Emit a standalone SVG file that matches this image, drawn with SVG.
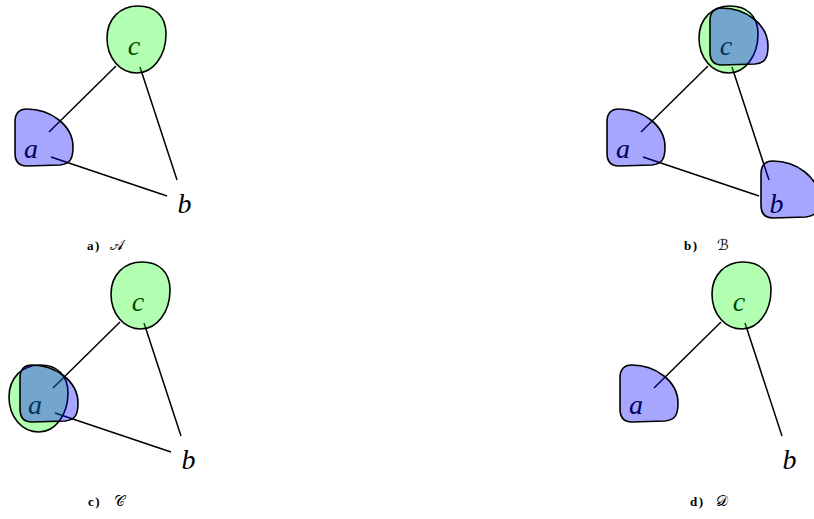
<svg xmlns="http://www.w3.org/2000/svg" xmlns:xlink="http://www.w3.org/1999/xlink" width="814" height="519" viewBox="0 0 814 519">
<style>
.lbl{font-family:"Liberation Serif",serif;font-style:italic;font-size:28px;fill:#000;text-anchor:middle}
.cap{font-family:"Liberation Serif",serif;font-weight:bold;font-size:13px;letter-spacing:1.5px;fill:#000}
.scr{font-family:"DejaVu Serif","DejaVu Sans","Noto Sans",serif;font-size:15px;fill:#000}
.edges line{stroke:#000;stroke-width:1.5;fill:none}
.green{fill:#00ff00;fill-opacity:0.3;stroke:#000;stroke-width:1.6}
.blue{fill:#0000ff;fill-opacity:0.35;stroke:#000;stroke-width:1.6}
</style>
<defs>
<path id="egg" d="M 30 67 C 13 67, 0 52, 0 32 C 0 13, 13 0, 31 0 C 48 0, 59 10, 59 28 C 59 50, 46 67, 30 67 Z"/>
<path id="drop" d="M 12 0 C 35 0, 58 16, 58 38 C 58 50, 55 55, 45 56 L 12 57 C 3 57, 0 52, 0 44 L 0 13 C 0 4, 4 0, 12 0 Z"/>
</defs>

<!-- Panel a -->
<g id="panelA">
  <g id="A-edges" class="edges">
    <line x1="116" y1="66" x2="49" y2="132"/>
    <line x1="140" y1="67" x2="177" y2="180"/>
    <line x1="51" y1="157" x2="167" y2="196"/>
  </g>
  <g id="A-c"><text class="lbl" x="134" y="55">c</text><use xlink:href="#egg" class="green" x="107" y="6"/></g>
  <g id="A-a"><text class="lbl" x="31" y="158">a</text><use xlink:href="#drop" class="blue" x="15" y="109"/></g>
  <g id="A-b"><text class="lbl" x="184.5" y="213">b</text></g>
  <g id="A-caption"><text class="cap" x="87" y="250">a)</text><text class="scr" x="110" y="250">𝒜</text></g>
</g>

<!-- Panel b -->
<g id="panelB">
  <g id="B-edges" class="edges">
    <line x1="708" y1="66" x2="641" y2="132"/>
    <line x1="732" y1="67" x2="769" y2="180"/>
    <line x1="643" y1="157" x2="759" y2="196"/>
  </g>
  <g id="B-c"><text class="lbl" x="726" y="55">c</text><use xlink:href="#egg" class="green" x="699" y="6"/><use xlink:href="#drop" class="blue" x="710" y="8"/></g>
  <g id="B-a"><text class="lbl" x="623" y="158">a</text><use xlink:href="#drop" class="blue" x="607" y="109"/></g>
  <g id="B-b"><text class="lbl" x="776.5" y="213">b</text><use xlink:href="#drop" class="blue" x="761" y="161"/></g>
  <g id="B-caption"><text class="cap" x="684" y="250">b)</text><text class="scr" x="717" y="250">ℬ</text></g>
</g>

<!-- Panel c -->
<g id="panelC">
  <g id="C-edges" class="edges">
    <line x1="120" y1="322" x2="53" y2="388"/>
    <line x1="144" y1="323" x2="181" y2="436"/>
    <line x1="55" y1="413" x2="171" y2="452"/>
  </g>
  <g id="C-c"><text class="lbl" x="138" y="311">c</text><use xlink:href="#egg" class="green" x="111" y="262"/></g>
  <g id="C-a"><text class="lbl" x="35" y="414">a</text><use xlink:href="#egg" class="green" x="9" y="365"/><use xlink:href="#drop" class="blue" x="20" y="365"/></g>
  <g id="C-b"><text class="lbl" x="188.5" y="469">b</text></g>
  <g id="C-caption"><text class="cap" x="88" y="506">c)</text><text class="scr" x="114" y="506">𝒞</text></g>
</g>

<!-- Panel d -->
<g id="panelD">
  <g id="D-edges" class="edges">
    <line x1="721" y1="322" x2="654" y2="388"/>
    <line x1="745" y1="323" x2="782" y2="436"/>
  </g>
  <g id="D-c"><text class="lbl" x="739" y="311">c</text><use xlink:href="#egg" class="green" x="712" y="262"/></g>
  <g id="D-a"><text class="lbl" x="636" y="414">a</text><use xlink:href="#drop" class="blue" x="620" y="365"/></g>
  <g id="D-b"><text class="lbl" x="789.5" y="469">b</text></g>
  <g id="D-caption"><text class="cap" x="690" y="506">d)</text><text class="scr" x="716" y="506">𝒟</text></g>
</g>
</svg>
